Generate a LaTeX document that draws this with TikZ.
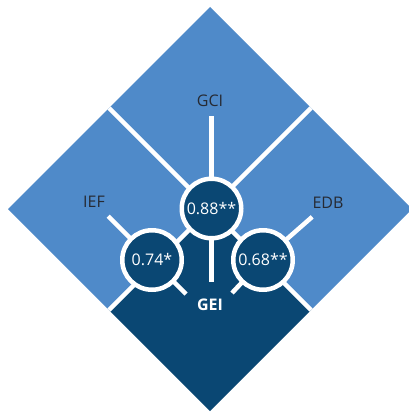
\documentclass[tikz,border=0pt]{standalone}
\usepackage{fontspec}
\setmainfont{Open Sans}
\usetikzlibrary{backgrounds}
\definecolor{lightblue}{HTML}{4F8AC9}
\definecolor{darkblue}{HTML}{0A4773}
\definecolor{labelgray}{HTML}{262A33}
\begin{document}
\begin{tikzpicture}[x=1pt, y=-1pt, line join=round, font=\fontsize{16}{19}\selectfont,
		gap/.style={white, line width=4.5pt},
		score/.style={circle, draw=white, line width=4.5pt, fill=darkblue, text=white,
			minimum size=59.5pt, inner sep=0pt, font=\fontsize{16}{19}\selectfont},
		factor/.style={text=labelgray}]
		\useasboundingbox (0,0) rectangle (408,412);
		\path 
			(210,7) coordinate (T)
			(412,209) coordinate (R)
			(210,411) coordinate (B)
			(8,209) coordinate (L)
			(109,108) coordinate (TL)
			(311,108) coordinate (TR)
			(109,310) coordinate (BL)
			(311,310) coordinate (BR)
			(210,209) coordinate (O)
		;
		\node[score] (gci score) at (211.5,208.5) {0.88**};
		\node[score] (ief score) at (152,260) {0.74*};
		\node[score] (edb score) at (263,260) {0.68**};
		\node[factor] (gci) at (210,101) {GCI};
		\node[factor] (ief) at (94,202) {IEF};
		\node[factor] (edb) at (328,203) {EDB};
		\node[text=white, font=\fontsize{16}{19}\selectfont\bfseries] (gei) at (210,305) {GEI};
		\begin{scope}[on background layer]
			\fill[lightblue] (T)--(R)--(BR)--(O)--(BL)--(L)--cycle;
			\fill[darkblue] (O)--(BR)--(B)--(BL)--cycle;
			\draw[gap] (TL)--(BR) (TR)--(BL);
			\draw[gap] ([yshift=-6pt]gci.south -| gci score) -- ([yshift=14pt]gei.north -| gci score);
			\draw[gap, shorten <=7pt] (ief) -- (ief score.center) -- +(34,34);
			\draw[gap, shorten <=7pt] (edb) -- (edb score.center) -- +(-31,33);
		\end{scope}
		\end{tikzpicture}
\end{document}
